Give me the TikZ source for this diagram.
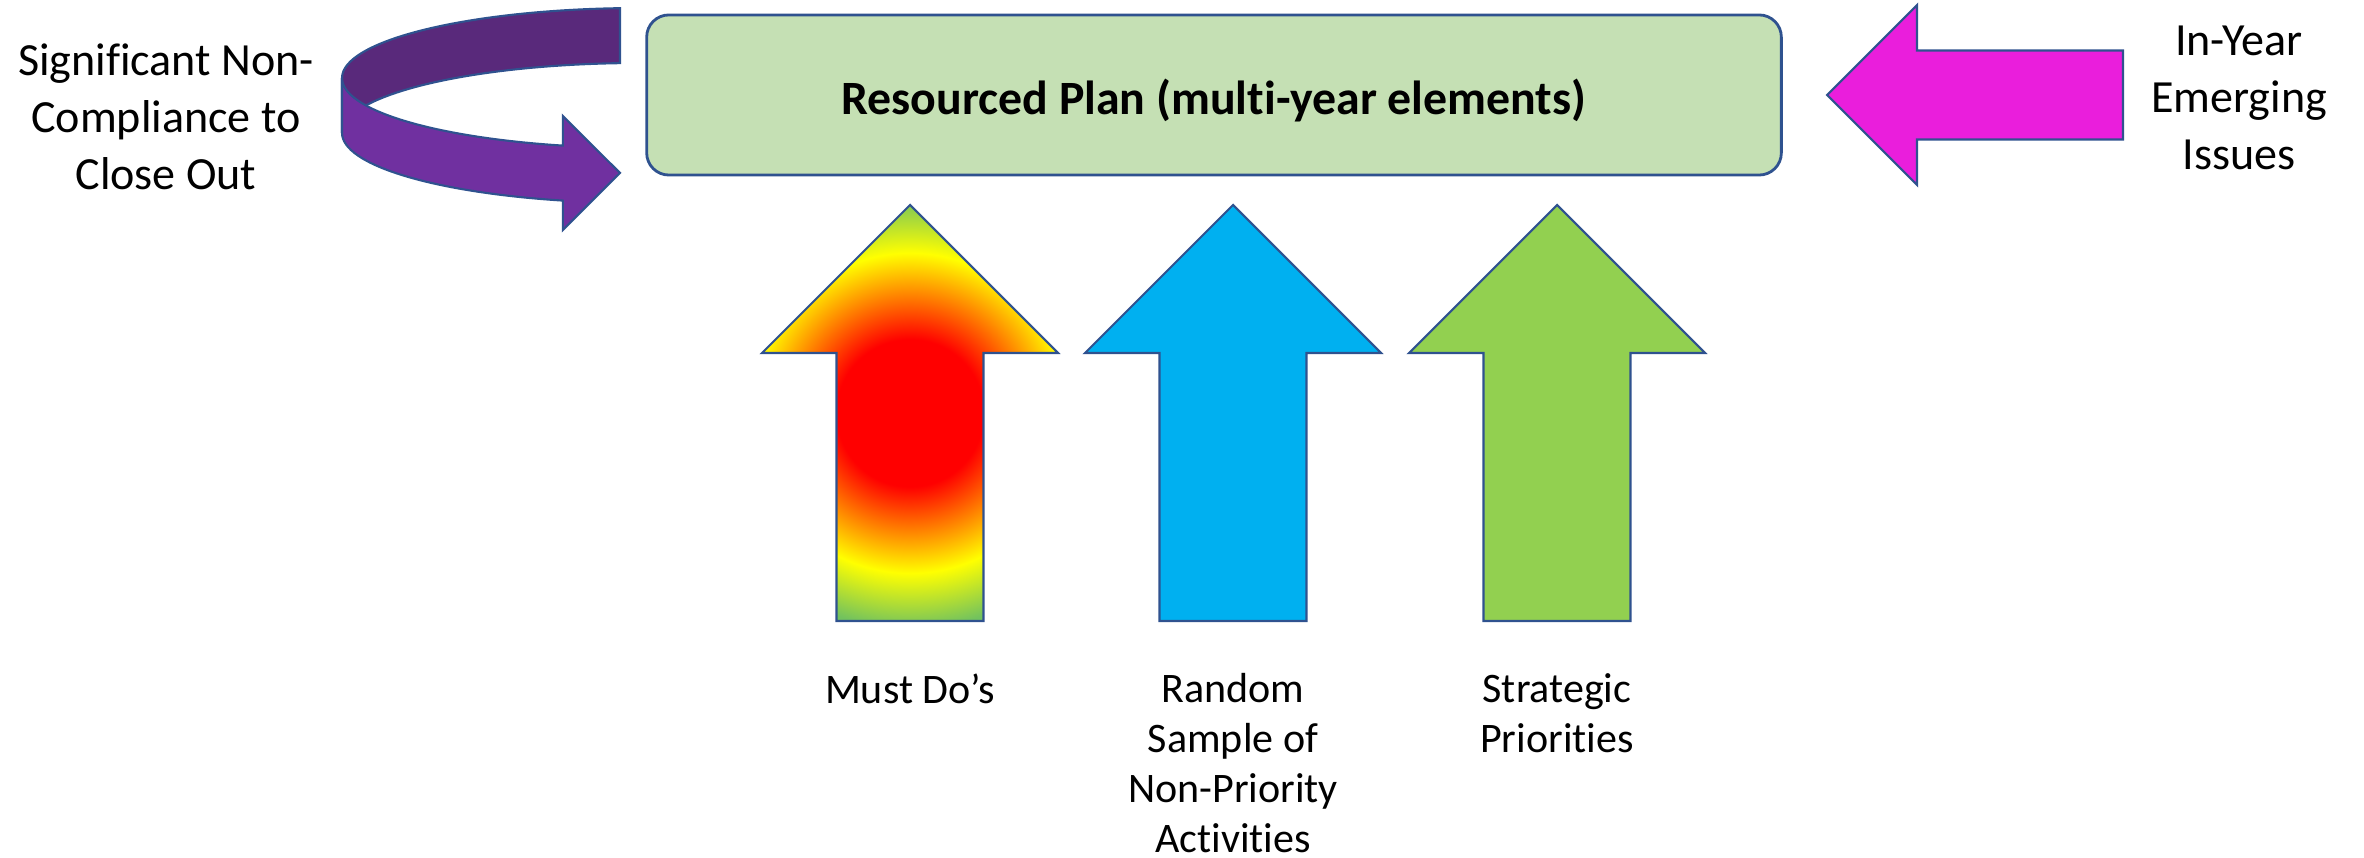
\documentclass[tikz,border=0pt]{standalone}
\usepackage{fontspec}
\setmainfont{Carlito}[Ligatures={TeX,CommonOff}]
\usepackage{tikz}
\usetikzlibrary{
  positioning,
  calc
}
\usepackage{xcolor}
\definecolor{edgeblue}{HTML}{2F528F}
\definecolor{planfill}{HTML}{C5E0B4}
\definecolor{skyblue}{HTML}{00B0F0}
\definecolor{leafgreen}{HTML}{92D050}
\definecolor{hotpink}{HTML}{EA1EDC}
\definecolor{purplefront}{HTML}{7030A0}
\definecolor{purpleback}{HTML}{59297B}
\definecolor{gradgreen}{HTML}{72C25E}
\pgfdeclareradialshading{mustdo}{\pgfpoint{0bp}{0bp}}{%
  color(0bp)=(red); color(8bp)=(red); color(17.4bp)=(yellow);
  color(23.4bp)=(gradgreen); color(50bp)=(gradgreen)}
\tikzset{
  planbox/.style={
    rectangle, draw=edgeblue, fill=planfill, rounded corners=6.3pt,
    minimum width=11.34cm, minimum height=1.6cm,
    text height=14.4pt, text depth=3.4pt,
    font=\fontsize{13.6pt}{16.5pt}\selectfont\bfseries,
    text centered, line width=0.8pt
  },
  blockarrow/.style={draw=edgeblue, line width=0.6pt, line join=miter},
  sidelabel/.style={
    align=center, inner sep=0pt, anchor=north,
    font=\fontsize{13.1pt}{16.2pt}\selectfont
  },
  footlabel/.style={
    align=center, inner sep=0pt, anchor=north,
    font=\fontsize{11.95pt}{14.2pt}\selectfont
  },
}

\begin{document}
\begin{tikzpicture}[x=0.01cm, y=0.01cm]
\useasboundingbox (0,0) rectangle (2364,858);

% Resourced plan box
\node[planbox] (plan) at (1214,763) {Resourced Plan (multi-year elements)};

% Curved arrow: back wall first, front wall over it
\draw[blockarrow, fill=purpleback] (620,849.8)
  arc[start angle=93.85, end angle=180, x radius=298, y radius=70]
  -- (342,725)
  arc[start angle=180, end angle=93.85, x radius=298, y radius=70]
  -- cycle;
\draw[blockarrow, fill=purplefront] (342,780)
  arc[start angle=180, end angle=255, x radius=298, y radius=70]
  -- (562.9,742) -- (620,685) -- (562.9,628) -- (562.9,657.4)
  arc[start angle=255, end angle=180, x radius=298, y radius=70]
  -- cycle;
\node[sidelabel] (closeout) at (166,815) {Significant Non-\\Compliance to\\Close Out};

% In-year arrow
\draw[blockarrow, fill=hotpink] (1827,763) -- (1917,853) -- (1917,807.5)
  -- (2123,807.5) -- (2123,718.5) -- (1917,718.5) -- (1917,673) -- cycle;
\node[sidelabel] (inyear) at (2239,833) {In-Year\\Emerging\\Issues};

% Up arrows
\begin{scope}
  \clip (910,653) -- (1058,505) -- (983.5,505) -- (983.5,237)
    -- (836.5,237) -- (836.5,505) -- (762,505) -- cycle;
  \shade[shading=mustdo] (910,445) circle[radius=230];
\end{scope}
\draw[blockarrow] (910,653) -- (1058,505) -- (983.5,505) -- (983.5,237)
  -- (836.5,237) -- (836.5,505) -- (762,505) -- cycle;
\foreach \cx/\col in {1233/skyblue, 1557/leafgreen} {
  \draw[blockarrow, fill=\col] (\cx,653) -- (\cx+148,505) -- (\cx+73.5,505)
    -- (\cx+73.5,237) -- (\cx-73.5,237) -- (\cx-73.5,505) -- (\cx-148,505) -- cycle;
}

% Labels under the arrows
\node[footlabel] (mustlbl) at (910,185) {Must Do’s};
\node[footlabel] (randlbl) at (1233,185) {Random\\Sample of\\Non-Priority\\Activities};
\node[footlabel] (stratlbl) at (1557,185) {Strategic\\Priorities};

\end{tikzpicture}
\end{document}
